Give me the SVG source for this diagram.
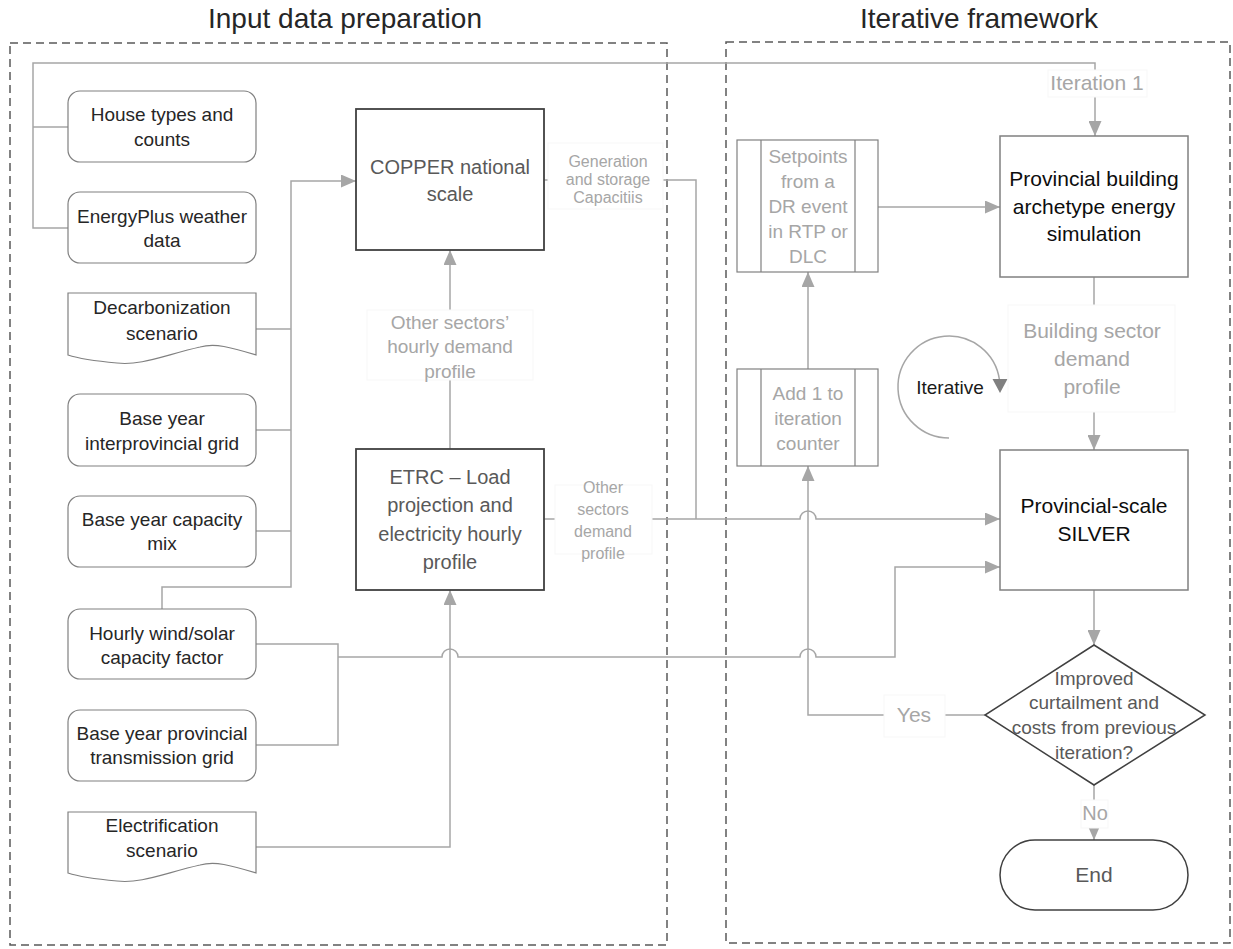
<svg xmlns="http://www.w3.org/2000/svg" width="1233" height="949" viewBox="0 0 1233 949">
<style>
text{font-family:"Liberation Sans",Arial,sans-serif;text-anchor:middle}
.title{font-size:28px;fill:#262626}
.container{fill:none;stroke:#595959;stroke-width:1.5;stroke-dasharray:8 5}
.in{fill:#fff;stroke:#808080;stroke-width:1.2}
.in-t{font-size:19px;fill:#262626}
.dark{fill:#fff;stroke:#404040;stroke-width:1.8}
.dark-t{font-size:20px;fill:#595959}
.proc{fill:#fff;stroke:#808080;stroke-width:1.5}
.proc-t{font-size:21px;fill:#0d0d0d}
.sub{fill:#fff;stroke:#808080;stroke-width:1.2}
.sub-t{font-size:19px;fill:#a6a6a6}
.conn{fill:none;stroke:#a6a6a6;stroke-width:1.5}
.lbl-bg{fill:#fff;stroke:#f7f7f7;stroke-width:1}
.lbl{fill:#a6a6a6}
</style>
<defs>
<marker id="arr" viewBox="0 0 15 13" refX="15" refY="6.5" markerWidth="15" markerHeight="13" markerUnits="userSpaceOnUse" orient="auto">
<path d="M0,0 L15,6.5 L0,13 z" fill="#a6a6a6"/>
</marker>
</defs>
<rect width="1233" height="949" fill="#fff"/>

<g id="containers">
<text class="title" x="345" y="28">Input data preparation</text>
<rect class="container" x="10" y="43" width="657" height="902"/>
<text class="title" x="979" y="28">Iterative framework</text>
<rect class="container" x="726" y="42" width="504" height="901"/>
</g>

<g id="connectors">
<path class="conn" d="M68,228 H33 V63 H1095 V136" marker-end="url(#arr)"/>
<path class="conn" d="M68,127 H33"/>
<path class="conn" d="M256,329 H291 M256,430 H291 M256,531 H291"/>
<path class="conn" d="M162,609 V587 H291 V181 H356" marker-end="url(#arr)"/>
<path class="conn" d="M544,180 H696 V519"/>
<path class="conn" d="M544,519 H800 A8,8 0 0 1 816,519 H1000" marker-end="url(#arr)"/>
<path class="conn" d="M450,449 V250" marker-end="url(#arr)"/>
<path class="conn" d="M256,644 H338 V745 H256"/>
<path class="conn" d="M338,657 H442 A8,8 0 0 1 458,657 H800 A8,8 0 0 1 816,657 H895 V567 H1000" marker-end="url(#arr)"/>
<path class="conn" d="M256,847 H450 V590" marker-end="url(#arr)"/>
<path class="conn" d="M878,207 H1000" marker-end="url(#arr)"/>
<path class="conn" d="M1094,277 V450" marker-end="url(#arr)"/>
<path class="conn" d="M808,369 V272" marker-end="url(#arr)"/>
<path class="conn" d="M1094,590 V645" marker-end="url(#arr)"/>
<path class="conn" d="M985,715 H808 V466" marker-end="url(#arr)"/>
<path class="conn" d="M1094,785 V840" marker-end="url(#arr)"/>
<path d="M949,438 A51,51 0 1 1 999.5,380" fill="none" stroke="#a6a6a6" stroke-width="1.5"/>
<path d="M992.5,379 L1007.5,379 L1000,393 z" fill="#808080"/>
</g>

<g id="labels">
<g id="lbl-iteration1">
<rect class="lbl-bg" x="1048" y="70" width="99" height="27"/>
<text class="lbl" x="1097" y="90" font-size="21">Iteration 1</text>
</g>
<g id="lbl-generation">
<rect class="lbl-bg" x="548" y="143" width="115" height="66"/>
<text class="lbl" x="608" y="167" font-size="16">Generation</text>
<text class="lbl" x="608" y="185" font-size="16">and storage</text>
<text class="lbl" x="608" y="203" font-size="16">Capacitiis</text>
</g>
<g id="lbl-other-hourly">
<rect class="lbl-bg" x="367" y="310" width="166" height="70"/>
<text class="lbl" x="450" y="329" font-size="19">Other sectors’</text>
<text class="lbl" x="450" y="353" font-size="19">hourly demand</text>
<text class="lbl" x="450" y="378" font-size="19">profile</text>
</g>
<g id="lbl-other-demand">
<rect class="lbl-bg" x="555" y="485" width="97" height="69"/>
<text class="lbl" x="603" y="493" font-size="16">Other</text>
<text class="lbl" x="603" y="515" font-size="16">sectors</text>
<text class="lbl" x="603" y="537" font-size="16">demand</text>
<text class="lbl" x="603" y="559" font-size="16">profile</text>
</g>
<g id="lbl-building-sector">
<rect class="lbl-bg" x="1008" y="305" width="167" height="107"/>
<text class="lbl" x="1092" y="338" font-size="21">Building sector</text>
<text class="lbl" x="1092" y="366" font-size="21">demand</text>
<text class="lbl" x="1092" y="394" font-size="21">profile</text>
</g>
<g id="lbl-iterative">
<text x="950" y="394" font-size="19" fill="#1a1a1a">Iterative</text>
</g>
<g id="lbl-yes">
<rect class="lbl-bg" x="884" y="695" width="61" height="42"/>
<text class="lbl" x="914" y="722" font-size="21">Yes</text>
</g>
<g id="lbl-no">
<rect class="lbl-bg" x="1081" y="800" width="27" height="28"/>
<text class="lbl" x="1095" y="820" font-size="20" fill="#8c8c8c">No</text>
</g>
</g>

<g id="house-types">
<rect class="in" x="68" y="91" width="188" height="71" rx="12"/>
<text class="in-t" x="162" y="121">House types and</text>
<text class="in-t" x="162" y="146">counts</text>
</g>
<g id="energyplus">
<rect class="in" x="68" y="192" width="188" height="71" rx="12"/>
<text class="in-t" x="162" y="223">EnergyPlus weather</text>
<text class="in-t" x="162" y="247">data</text>
</g>
<g id="decarbonization">
<path class="in" d="M68,293 H256 V355 C230,347 215,343 200,347 C165,355 140,366 117,363 C95,361 80,359 68,355 Z"/>
<text class="in-t" x="162" y="314">Decarbonization</text>
<text class="in-t" x="162" y="340">scenario</text>
</g>
<g id="interprovincial">
<rect class="in" x="68" y="394" width="188" height="72" rx="12"/>
<text class="in-t" x="162" y="425">Base year</text>
<text class="in-t" x="162" y="450">interprovincial grid</text>
</g>
<g id="capacity-mix">
<rect class="in" x="68" y="496" width="188" height="71" rx="12"/>
<text class="in-t" x="162" y="526">Base year capacity</text>
<text class="in-t" x="162" y="550">mix</text>
</g>
<g id="wind-solar">
<rect class="in" x="68" y="609" width="188" height="70" rx="12"/>
<text class="in-t" x="162" y="640">Hourly wind/solar</text>
<text class="in-t" x="162" y="664">capacity factor</text>
</g>
<g id="provincial-grid">
<rect class="in" x="68" y="710" width="188" height="71" rx="12"/>
<text class="in-t" x="162" y="740">Base year provincial</text>
<text class="in-t" x="162" y="764">transmission grid</text>
</g>
<g id="electrification">
<path class="in" d="M68,812 H256 V873 C230,865 215,861 200,865 C165,873 140,884 117,881 C95,879 80,877 68,873 Z"/>
<text class="in-t" x="162" y="832">Electrification</text>
<text class="in-t" x="162" y="857">scenario</text>
</g>

<g id="copper">
<rect class="dark" x="356" y="109" width="188" height="141"/>
<text class="dark-t" x="450" y="174">COPPER national</text>
<text class="dark-t" x="450" y="201">scale</text>
</g>
<g id="etrc">
<rect class="dark" x="356" y="449" width="188" height="141"/>
<text class="dark-t" x="450" y="484" font-size="21">ETRC – Load</text>
<text class="dark-t" x="450" y="512" font-size="21">projection and</text>
<text class="dark-t" x="450" y="541" font-size="21">electricity hourly</text>
<text class="dark-t" x="450" y="569" font-size="21">profile</text>
</g>

<g id="setpoints">
<rect class="sub" x="737" y="140" width="141" height="132"/>
<path class="sub" d="M761,140 V272 M855,140 V272"/>
<text class="sub-t" x="808" y="163">Setpoints</text>
<text class="sub-t" x="808" y="188">from a</text>
<text class="sub-t" x="808" y="213">DR event</text>
<text class="sub-t" x="808" y="238">in RTP or</text>
<text class="sub-t" x="808" y="263">DLC</text>
</g>
<g id="add-one">
<rect class="sub" x="737" y="369" width="141" height="97"/>
<path class="sub" d="M761,369 V466 M855,369 V466"/>
<text class="sub-t" x="808" y="400">Add 1 to</text>
<text class="sub-t" x="808" y="425">iteration</text>
<text class="sub-t" x="808" y="450">counter</text>
</g>
<g id="building-sim">
<rect class="proc" x="1000" y="136" width="188" height="141"/>
<text class="proc-t" x="1094" y="186">Provincial building</text>
<text class="proc-t" x="1094" y="214">archetype energy</text>
<text class="proc-t" x="1094" y="241">simulation</text>
</g>
<g id="silver">
<rect class="proc" x="1000" y="450" width="188" height="140"/>
<text class="proc-t" x="1094" y="513">Provincial-scale</text>
<text class="proc-t" x="1094" y="541">SILVER</text>
</g>
<g id="decision">
<polygon points="1094,645 1205,715 1094,785 985,715" fill="#fff" stroke="#404040" stroke-width="1.5"/>
<text x="1094" y="685" font-size="19" fill="#595959">Improved</text>
<text x="1094" y="709" font-size="19" fill="#595959">curtailment and</text>
<text x="1094" y="734" font-size="19" fill="#595959">costs from previous</text>
<text x="1094" y="759" font-size="19" fill="#595959">iteration?</text>
</g>
<g id="end">
<rect x="1000" y="840" width="188" height="70" rx="35" fill="#fff" stroke="#404040" stroke-width="1.5"/>
<text x="1094" y="882" font-size="21" fill="#595959">End</text>
</g>
</svg>
